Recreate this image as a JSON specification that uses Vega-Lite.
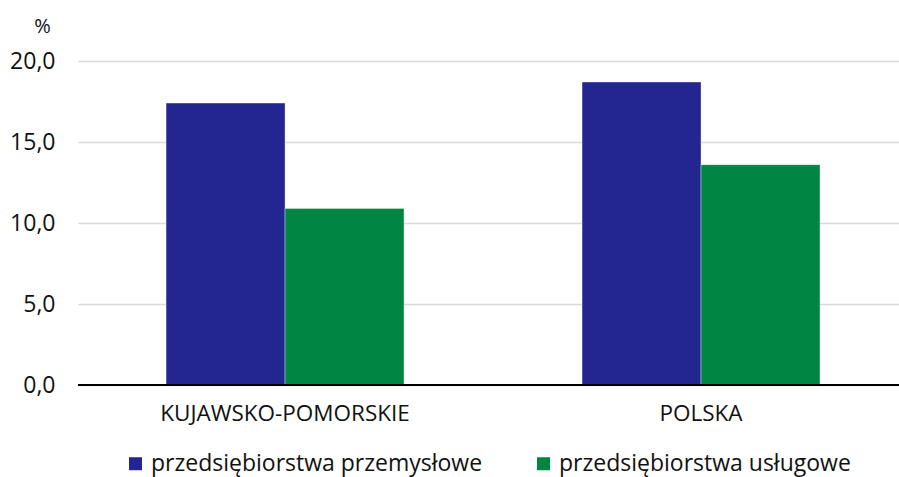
{
  "$schema": "https://vega.github.io/schema/vega-lite/v6.json",
  "autosize": "none",
  "width": 822,
  "height": 324,
  "padding": {"left": 78, "top": 61, "right": 0, "bottom": 92},
  "background": "white",
  "data": {
    "values": [
      {"region": "KUJAWSKO-POMORSKIE", "typ": "przedsiębiorstwa przemysłowe", "wartosc": 17.4},
      {"region": "KUJAWSKO-POMORSKIE", "typ": "przedsiębiorstwa usługowe", "wartosc": 10.9},
      {"region": "POLSKA", "typ": "przedsiębiorstwa przemysłowe", "wartosc": 18.7},
      {"region": "POLSKA", "typ": "przedsiębiorstwa usługowe", "wartosc": 13.6}
    ]
  },
  "layer": [
    {
      "mark": {"type": "bar", "stroke": "#ffffff", "strokeWidth": 0.6, "strokeOpacity": 0.6},
      "encoding": {
        "x": {
          "field": "region", "type": "nominal", "sort": null,
          "scale": {"paddingInner": 0.428, "paddingOuter": 0.202, "align": 0.524},
          "axis": {"title": null, "labelAngle": 0, "ticks": false, "domain": false, "labelFontSize": 22.5, "labelFont": "Open Sans", "labelColor": "#111111", "labelPadding": 17, "labelLimit": 500}
        },
        "xOffset": {"field": "typ", "type": "nominal", "sort": null},
        "y": {
          "field": "wartosc", "type": "quantitative",
          "scale": {"domain": [0, 20]},
          "axis": {
            "values": [0, 5, 10, 15, 20],
            "labelExpr": "replace(format(datum.value, '.1f'), '.', ',')",
            "ticks": false, "domain": false,
            "gridColor": "#d9d9d9", "gridWidth": 1.5,
            "labelFontSize": 23, "labelFont": "Open Sans", "labelColor": "#111111", "labelPadding": 23,
            "title": "%", "titleAngle": 0, "titleFontSize": 20, "titleFont": "Open Sans", "titleFontWeight": "normal", "titleColor": "#111111",
            "titleX": -36, "titleY": -35, "titleAlign": "center", "titleBaseline": "middle"
          }
        },
        "color": {
          "field": "typ", "type": "nominal", "sort": null,
          "scale": {"range": ["#232590", "#008542"]},
          "legend": {
            "title": null, "orient": "none", "direction": "horizontal",
            "legendX": 46, "legendY": 391,
            "symbolType": "square", "symbolSize": 169, "symbolStrokeWidth": 0,
            "labelFontSize": 23, "labelFont": "Open Sans", "labelColor": "#111111",
            "labelOffset": 4, "columnPadding": 49, "labelLimit": 500
          }
        }
      }
    },
    {
      "mark": {"type": "rule", "color": "#000000", "strokeWidth": 2},
      "encoding": {"y": {"datum": 0}}
    }
  ],
  "config": {"view": {"stroke": null}}
}
